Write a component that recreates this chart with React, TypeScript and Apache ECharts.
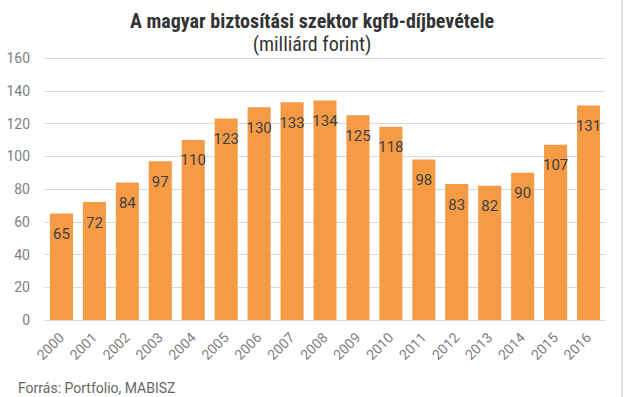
import React, { useEffect, useRef } from "react";
import * as echarts from "echarts";

const years = ["2000","2001","2002","2003","2004","2005","2006","2007","2008","2009","2010","2011","2012","2013","2014","2015","2016"];
const values = [65, 72, 84, 97, 110, 123, 130, 133, 134, 125, 118, 98, 83, 82, 90, 107, 131];
const titleText = "A magyar biztosítási szektor kgfb-díjbevétele";
const subtitleText = "(milliárd forint)";
const sourceText = "Forrás: Portfolio, MABISZ";

export default function App() {
  const ref = useRef<HTMLDivElement>(null);
  useEffect(() => {
    if (!ref.current) return;
    const chart = echarts.init(ref.current, null, { renderer: "svg" });
    chart.setOption({
      animation: false,
      backgroundColor: "#ffffff",
      title: [
        {
          text: titleText,
          left: "center",
          top: 11,
          padding: 0,
          textStyle: { fontFamily: "Roboto Condensed, Liberation Sans Narrow, Roboto", fontWeight: "bold", fontSize: 20, color: "#333333" },
        },
        {
          text: subtitleText,
          left: "center",
          top: 34,
          padding: 0,
          textStyle: { fontFamily: "Roboto Condensed, Liberation Sans Narrow, Roboto", fontWeight: "normal", fontSize: 20, color: "#333333" },
        },
        {
          text: sourceText,
          left: 13,
          top: 376,
          textStyle: { fontFamily: "Roboto", fontWeight: "normal", fontSize: 14, color: "#666666" },
        },
      ],
      graphic: [
        { type: "rect", shape: { x: 621, y: 0, width: 2, height: 397 }, style: { fill: "#e0e0e0" } },
      ],
      grid: { left: 45, right: 19, top: 58, bottom: 77, containLabel: false },
      xAxis: {
        type: "category",
        data: years,
        axisLine: { show: true, lineStyle: { color: "#d9d9d9", width: 1 } },
        axisTick: { show: false },
        axisLabel: { rotate: 45, color: "#7f7f7f", fontFamily: "Roboto", fontSize: 14, margin: 15, interval: 0 },
      },
      yAxis: {
        type: "value",
        min: 0,
        max: 160,
        interval: 20,
        axisLine: { show: false },
        axisTick: { show: false },
        splitLine: { lineStyle: { color: "#d9d9d9", width: 1 } },
        axisLabel: { color: "#7f7f7f", fontFamily: "Roboto", fontSize: 14, margin: 15 },
      },
      series: [
        {
          type: "bar",
          data: values,
          barWidth: "70%",
          itemStyle: { color: "#F59B46" },
          label: {
            show: true,
            position: "insideTop",
            distance: 13,
            color: "#404040",
            fontFamily: "Roboto",
            fontSize: 15,
          },
        },
      ],
    });
    return () => chart.dispose();
  }, []);
  return <div ref={ref} style={{ position: "fixed", left: 0, top: 0, width: 624, height: 397 }} />;
}
